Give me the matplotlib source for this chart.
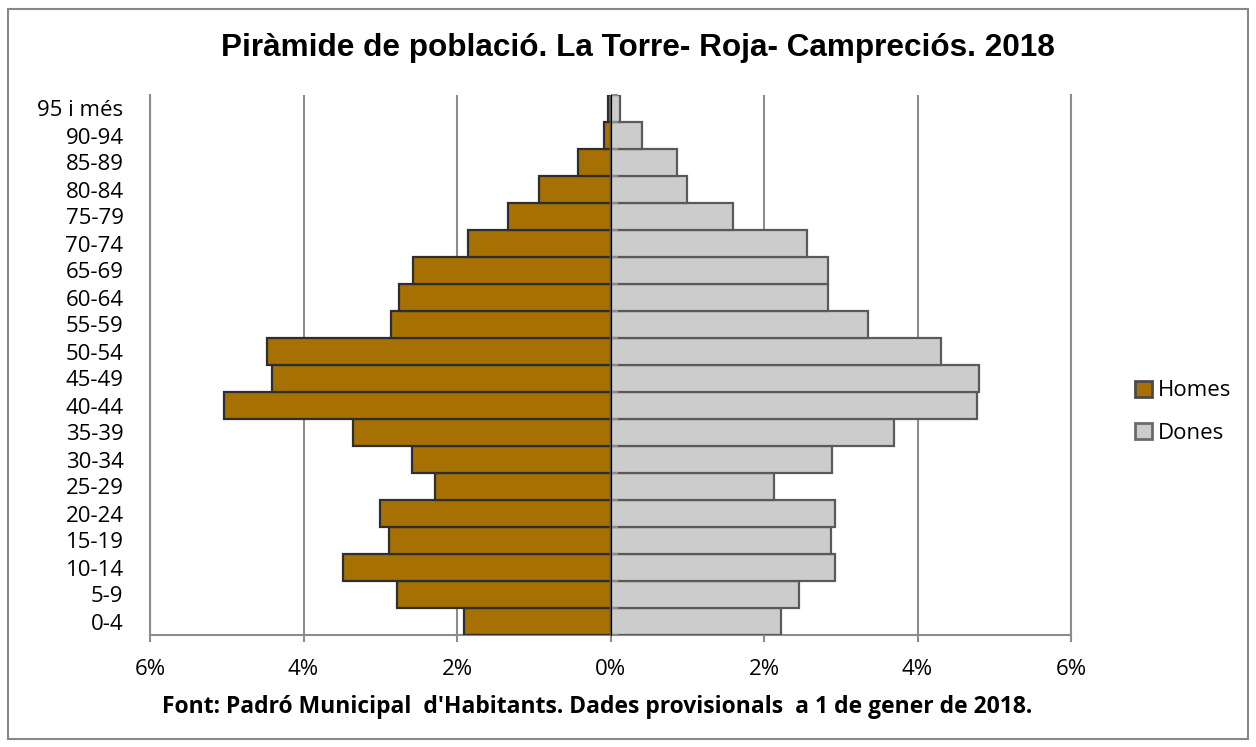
import matplotlib
matplotlib.use("Agg")
import matplotlib.pyplot as plt
from matplotlib.ticker import FuncFormatter, FixedLocator
from matplotlib.patches import Rectangle, Patch
import numpy as np

# ---- data ----
age_groups = ["0-4", "5-9", "10-14", "15-19", "20-24", "25-29", "30-34", "35-39",
              "40-44", "45-49", "50-54", "55-59", "60-64", "65-69", "70-74",
              "75-79", "80-84", "85-89", "90-94", "95 i més"]
homes = [1.91, 2.78, 3.49, 2.88, 3.00, 2.29, 2.59, 3.35,
         5.03, 4.41, 4.47, 2.86, 2.76, 2.57, 1.86,
         1.33, 0.93, 0.42, 0.08, 0.03]
dones = [2.22, 2.46, 2.93, 2.87, 2.93, 2.13, 2.89, 3.69,
         4.78, 4.80, 4.30, 3.36, 2.83, 2.83, 2.56,
         1.59, 1.00, 0.86, 0.41, 0.13]
x_ticks = [-6, -4, -2, 0, 2, 4, 6]
series_names = ["Homes", "Dones"]

title = "Piràmide de població. La Torre- Roja- Campreciós. 2018"
source = "Font: Padró Municipal  d'Habitants. Dades provisionals  a 1 de gener de 2018."

homes_color = "#A67003"
dones_color = "#CCCCCC"
grid_color = "#8C8C8C"
label_font = "Open Sans"

fig = plt.figure(figsize=(12.56, 7.47), dpi=100)
ax = fig.add_axes([150 / 1256, 1 - 635 / 747, (1071 - 150) / 1256, 540 / 747])

y = np.arange(len(age_groups))
ax.barh(y, [-v for v in homes], height=1.0, color=homes_color,
        edgecolor="#2E2E2E", linewidth=1.6, zorder=3)
ax.barh(y, dones, height=1.0, color=dones_color,
        edgecolor="#5A5A5A", linewidth=1.6, zorder=3)

ax.set_xlim(-6, 6)
ax.set_ylim(-0.5, len(age_groups) - 0.5)

ax.xaxis.set_major_locator(FixedLocator(x_ticks))
ax.xaxis.set_major_formatter(FuncFormatter(lambda v, p: f"{abs(v):.0f}%"))
ax.grid(axis="x", color=grid_color, linewidth=1.5, zorder=0)
ax.tick_params(axis="x", direction="out", length=5, width=1.5, color=grid_color,
               pad=12, labelsize=16)
for lbl in ax.get_xticklabels():
    lbl.set_fontfamily(label_font)

ax.set_yticks(y)
ax.set_yticklabels(age_groups, fontfamily=label_font, fontsize=16)
ax.tick_params(axis="y", length=0, pad=19)

ax.spines["top"].set_visible(False)
for side in ["left", "right", "bottom"]:
    ax.spines[side].set_color(grid_color)
    ax.spines[side].set_linewidth(1.5)

# central category axis at 0
sec = ax.secondary_yaxis(0.5)
sec.set_yticks(np.arange(len(age_groups) + 1) - 0.5)
sec.set_yticklabels([])
sec.tick_params(axis="y", direction="out", length=5, width=1.5, color=grid_color)
sec.spines["left"].set_color(grid_color)
sec.spines["left"].set_linewidth(2)
sec.set_zorder(4)

# title and source
fig.text(638 / 1256, 1 - 48 / 747, title, ha="center", va="center",
         fontsize=22.7, fontweight="bold", family="Liberation Sans")
fig.text(597 / 1256, 1 - 707 / 747, source, ha="center", va="center",
         fontsize=16.5, fontweight="bold", family=label_font)

# legend
handles = [Patch(facecolor=homes_color, edgecolor="#4A4A4A", linewidth=2),
           Patch(facecolor=dones_color, edgecolor="#6A6A6A", linewidth=2)]
leg = fig.legend(handles, series_names, loc="center left",
                 bbox_to_anchor=(1135 / 1256, 1 - 412 / 747),
                 frameon=False, prop={"family": label_font, "size": 16},
                 handlelength=0.75, handleheight=0.75, handletextpad=0.3,
                 labelspacing=0.95, borderaxespad=0, borderpad=0)

# outer border
fig.patches.append(Rectangle((8 / 1256, 8 / 747), 1240 / 1256, 730 / 747,
                             transform=fig.transFigure, fill=False,
                             edgecolor="#888888", linewidth=1.5))

fig.savefig("out.png", dpi=100)
